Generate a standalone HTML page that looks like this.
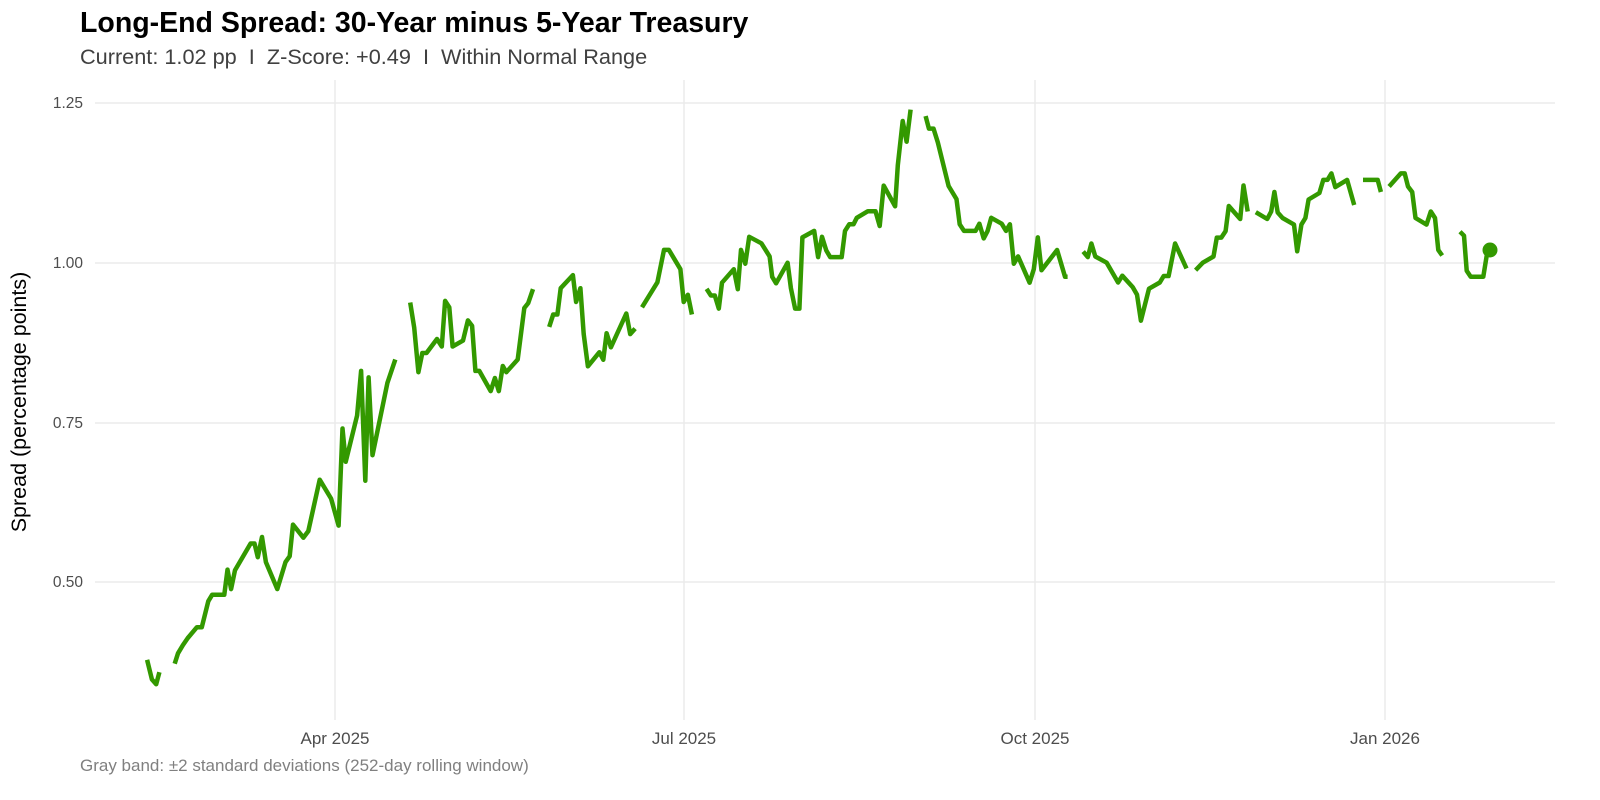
<!DOCTYPE html>
<html><head><meta charset="utf-8"><style>
html,body{margin:0;padding:0;background:#fff;}
svg{display:block;font-family:"Liberation Sans",Arial,sans-serif;}
</style></head><body>
<svg id="c" width="1600" height="800" viewBox="0 0 1600 800" xmlns="http://www.w3.org/2000/svg">
<rect width="1600" height="800" fill="#fff"/>
<g stroke="#ebebeb" stroke-width="1.5">
<line x1="95" x2="1555" y1="103" y2="103"/>
<line x1="95" x2="1555" y1="263" y2="263"/>
<line x1="95" x2="1555" y1="423" y2="423"/>
<line x1="95" x2="1555" y1="582" y2="582"/>
<line x1="335" x2="335" y1="80" y2="720"/>
<line x1="684" x2="684" y1="80" y2="720"/>
<line x1="1035" x2="1035" y1="80" y2="720"/>
<line x1="1385" x2="1385" y1="80" y2="720"/>
</g>
<g font-size="15.5" fill="#4d4d4d" text-anchor="end">
<text x="83" y="108">1.25</text>
<text x="83" y="268">1.00</text>
<text x="83" y="428">0.75</text>
<text x="83" y="587">0.50</text>
</g>
<g font-size="17" fill="#4d4d4d" text-anchor="middle">
<text x="335" y="744">Apr 2025</text>
<text x="684" y="744">Jul 2025</text>
<text x="1035" y="744">Oct 2025</text>
<text x="1385" y="744">Jan 2026</text>
</g>
<text x="80" y="32" font-size="28.5" font-weight="bold" fill="#000">Long-End Spread: 30-Year minus 5-Year Treasury</text>
<text x="80" y="64" font-size="21.7" fill="#404040" xml:space="preserve">Current: 1.02 pp  I  Z-Score: +0.49  I  Within Normal Range</text>
<text x="80" y="771" font-size="17" fill="#808080">Gray band: ±2 standard deviations (252-day rolling window)</text>
<text transform="translate(26,402) rotate(-90)" font-size="21.5" fill="#000" text-anchor="middle">Spread (percentage points)</text>
<g id="lines" fill="none" stroke="#339900" stroke-width="4.5" stroke-linejoin="round"></g>
<circle cx="1490" cy="250" r="7.5" fill="#339900"/>
</svg>
<script>
var z1=function(p){return [335+(p[0]-637)/3.07,423+(p[1]-453)/3.07];};
var z2=function(p){return [684+(p[0]-471)/3.05,103+(p[1]-15)/3.05];};
var z3=function(p){return [1035+(p[0]-20)/3.07,263+(p[1]-323)/3.07];};
var z4=function(p){return [1385+(p[0]-105)/3.0,263+(p[1]-352)/3.0];};
var segs=[
[z1,[[60,1180],[75,1240],[88,1255],[98,1218]]],
[z1,[[145,1192],[155,1160],[170,1135],[185,1113],[213,1080],[228,1080],[248,1000],[260,980],[297,980],[307,903],[318,963],[330,905],[378,823],[390,823],[400,865],[413,803],[425,880],[460,963],[485,880],[498,862],[508,765],[540,805],[555,785],[590,627],[625,685],[648,768],[660,470],[670,572],[705,430],[717,293],[730,630],[740,313],[752,552],[798,330],[822,258]]],
[z1,[[868,83],[880,160],[893,297],[905,238],[918,238],[950,195],[965,218],[975,78],[988,98],[998,218],[1030,200],[1045,138],[1058,155],[1068,293],[1080,293],[1115,355],[1128,315],[1140,355],[1152,278],[1163,297],[1198,258],[1218,100],[1230,85],[1245,42]]],
[z2,[[60,698],[72,660],[85,660],[95,580],[132,540],[142,622],[155,580],[165,720],[178,818],[213,775],[225,798],[235,717],[248,760],[295,657],[307,720],[322,703]]],
[z2,[[343,638],[390,562],[410,463],[425,463],[460,522],[470,622],[483,600],[495,660]]],
[z2,[[540,582],[553,602],[565,602],[577,642],[587,563],[623,522],[635,583],[645,463],[658,505],[670,423],[707,443],[732,483],[740,545],[752,565],[787,502],[797,580],[810,642],[823,642],[832,425],[868,405],[880,485],[892,423],[905,465],[917,485],[952,485],[962,405],[975,385],[988,385],[998,365],[1032,345],[1055,345],[1068,390],[1080,267],[1115,330],[1123,205],[1138,70],[1150,133],[1162,35]]],
[z2,[[1208,55],[1218,93],[1232,93],[1245,135],[1278,268],[1302,308],[1312,385],[1325,405],[1360,405],[1372,383],[1385,428],[1397,405],[1408,365],[1440,383],[1453,405],[1465,385],[1477,505],[1490,483],[1525,563],[1538,522],[1550,425]],
 z3,[[40,345],[88,283],[112,365],[120,365]]],
[z3,[[168,288],[182,305],[193,263],[205,303],[240,322],[275,383],[288,362],[320,397],[333,420],[345,500],[370,402],[403,383],[415,363],[430,363],[450,263],[485,340]]],
[z3,[[513,345],[535,322],[568,303],[578,245],[592,245],[605,225],[615,148],[650,188],[660,85],[673,165]]],
[z3,[[698,167],[733,188],[745,165],[755,105],[765,168],[780,185],[815,205],[825,287],[838,205],[850,185],[860,128],[893,108],[905,68],[918,68],[930,48],[942,90],[978,68],[1000,145]]],
[z3,[[1027,68],[1072,68],[1082,105]]],
[z3,[[1107,88],[1143,48],[1155,48],[1165,88],[1178,105],[1188,185],[1222,205],[1235,165],[1248,185],[1258,283],[1270,300]]],
[z4,[[330,258],[342,270],[350,375],[362,393],[400,393],[410,330],[420,315]]]
];
var g=document.getElementById('lines'),ns='http://www.w3.org/2000/svg';
segs.forEach(function(s){
  var pts=[];
  for(var i=0;i<s.length;i+=2){var f=s[i];s[i+1].forEach(function(p){var q=f(p);pts.push(q[0].toFixed(1)+','+q[1].toFixed(1));});}
  var pl=document.createElementNS(ns,'polyline');pl.setAttribute('points',pts.join(' '));g.appendChild(pl);
});
</script>
</body></html>
